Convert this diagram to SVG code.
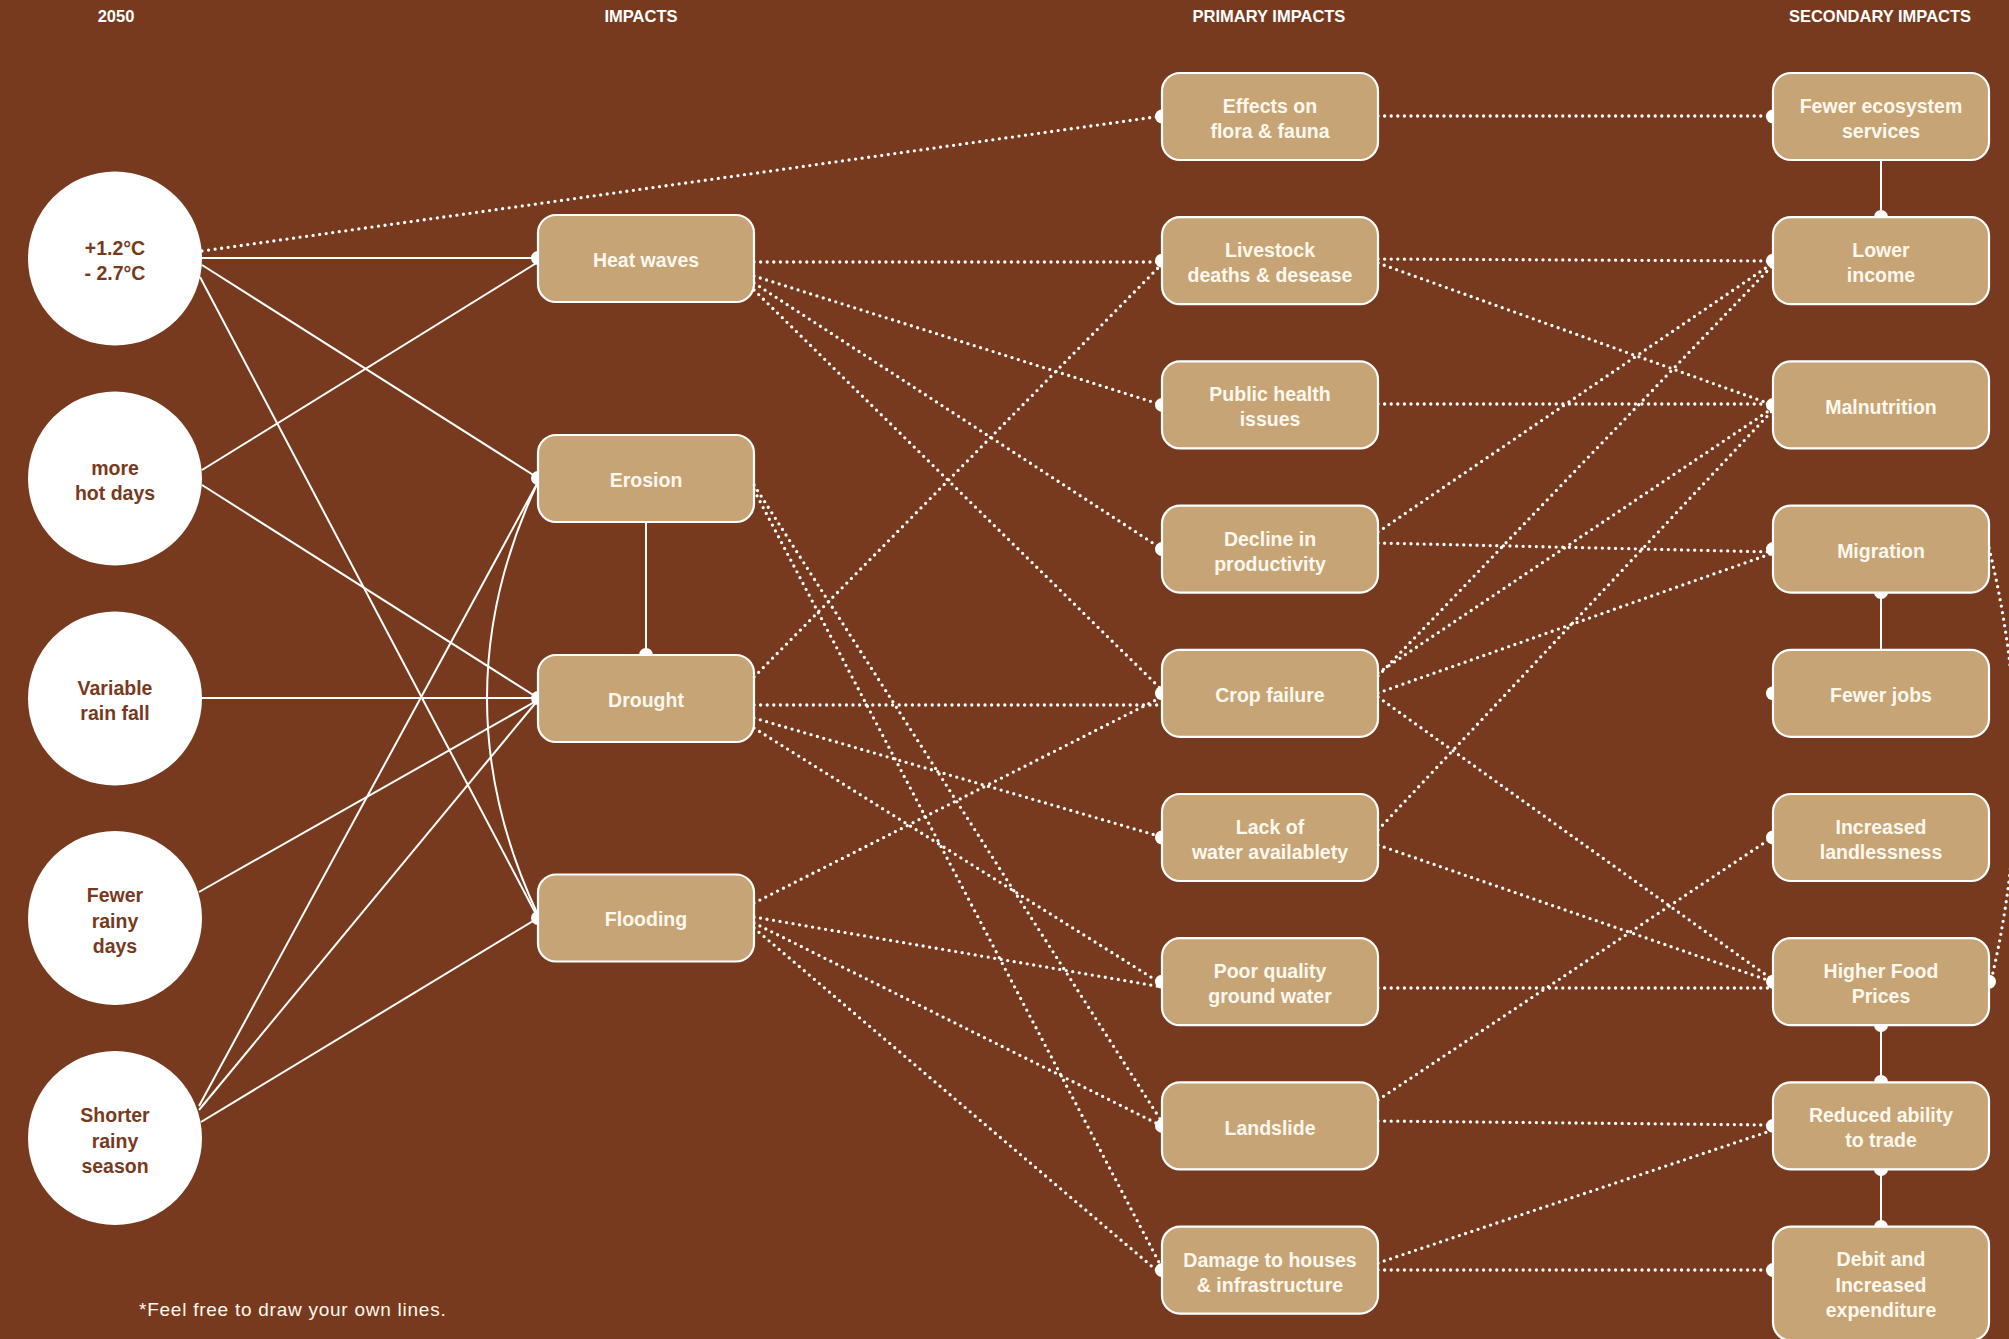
<svg xmlns="http://www.w3.org/2000/svg" width="2009" height="1339" viewBox="0 0 2009 1339">
<style>
.bg{fill:#783A1E}
.hdr{font-family:"Liberation Sans",Arial,sans-serif;font-weight:bold;font-size:16.5px;fill:#FFFFFF;text-anchor:middle}
.cause circle{fill:#FFFFFF}
.cause text{font-family:"Liberation Sans",Arial,sans-serif;font-weight:bold;font-size:19.5px;fill:#783A1E;text-anchor:middle}
.box rect{fill:#C7A476;stroke:#FFFFFF;stroke-width:2.2}
.box text{font-family:"Liberation Sans",Arial,sans-serif;font-weight:bold;font-size:19.5px;fill:#FFF8EC;text-anchor:middle}
.solid{stroke:#FFFFFF;stroke-width:2;fill:none}
.dot{stroke:#FFFFFF;stroke-width:3.3;fill:none;stroke-dasharray:0 6.6;stroke-linecap:round}
.end{fill:#FFFFFF}
.note{font-family:"Liberation Sans",Arial,sans-serif;font-size:19px;letter-spacing:0.75px;fill:#FFF8EC}
</style>
<rect class="bg" x="0" y="0" width="2009" height="1339"/>

<g id="headers">
<text class="hdr" x="116" y="22">2050</text>
<text class="hdr" x="641" y="22">IMPACTS</text>
<text class="hdr" x="1269" y="22">PRIMARY IMPACTS</text>
<text class="hdr" x="1880" y="22">SECONDARY IMPACTS</text>
</g>

<g id="connectors">
<line class="solid" x1="202" y1="258" x2="538" y2="258"/>
<line class="solid" x1="202" y1="265" x2="538" y2="478"/>
<line class="solid" x1="200" y1="277" x2="538" y2="918"/>
<line class="solid" x1="202" y1="470" x2="538" y2="262"/>
<line class="solid" x1="202" y1="485" x2="538" y2="698"/>
<line class="solid" x1="202" y1="698" x2="538" y2="698"/>
<line class="solid" x1="199" y1="892" x2="538" y2="700"/>
<line class="solid" x1="199" y1="1106" x2="538" y2="482"/>
<line class="solid" x1="199" y1="1110" x2="538" y2="700"/>
<line class="solid" x1="201" y1="1122" x2="538" y2="918"/>
<path class="solid" d="M538 482 Q436 698 538 915"/>
<line class="solid" x1="646" y1="522" x2="646" y2="655"/>
<line class="dot" x1="202" y1="251" x2="1162" y2="116"/>
<line class="dot" x1="754" y1="262" x2="1162" y2="262"/>
<line class="dot" x1="754" y1="276" x2="1162" y2="405"/>
<line class="dot" x1="754" y1="283" x2="1162" y2="549"/>
<line class="dot" x1="754" y1="290" x2="1162" y2="690"/>
<line class="dot" x1="754" y1="485" x2="1162" y2="1122"/>
<line class="dot" x1="754" y1="490" x2="1162" y2="1268"/>
<line class="dot" x1="754" y1="677" x2="1162" y2="264"/>
<line class="dot" x1="754" y1="705" x2="1162" y2="705"/>
<line class="dot" x1="754" y1="718" x2="1162" y2="837"/>
<line class="dot" x1="754" y1="728" x2="1162" y2="984"/>
<line class="dot" x1="754" y1="903" x2="1162" y2="697"/>
<line class="dot" x1="754" y1="917" x2="1162" y2="987"/>
<line class="dot" x1="754" y1="923" x2="1162" y2="1126"/>
<line class="dot" x1="754" y1="928" x2="1162" y2="1275"/>
<line class="dot" x1="1378" y1="116" x2="1773" y2="116"/>
<line class="dot" x1="1378" y1="259" x2="1773" y2="261"/>
<line class="dot" x1="1378" y1="263" x2="1773" y2="405"/>
<line class="dot" x1="1378" y1="404" x2="1773" y2="404"/>
<line class="dot" x1="1378" y1="532" x2="1773" y2="263"/>
<line class="dot" x1="1378" y1="543" x2="1773" y2="552"/>
<line class="dot" x1="1378" y1="676" x2="1773" y2="265"/>
<line class="dot" x1="1378" y1="673" x2="1773" y2="408"/>
<line class="dot" x1="1378" y1="693" x2="1773" y2="553"/>
<line class="dot" x1="1378" y1="697" x2="1773" y2="980"/>
<line class="dot" x1="1378" y1="830" x2="1773" y2="410"/>
<line class="dot" x1="1378" y1="845" x2="1773" y2="982"/>
<line class="dot" x1="1378" y1="988" x2="1773" y2="988"/>
<line class="dot" x1="1378" y1="1100" x2="1773" y2="837"/>
<line class="dot" x1="1378" y1="1121" x2="1773" y2="1125"/>
<line class="dot" x1="1378" y1="1263" x2="1773" y2="1130"/>
<line class="dot" x1="1378" y1="1270" x2="1773" y2="1270"/>
<path class="dot" d="M1989 548 Q2042 765 1991 981"/>
<line class="solid" x1="1881" y1="160" x2="1881" y2="217"/>
<line class="solid" x1="1881" y1="592" x2="1881" y2="650"/>
<line class="solid" x1="1881" y1="1025" x2="1881" y2="1082"/>
<line class="solid" x1="1881" y1="1169" x2="1881" y2="1227"/>
<circle class="end" cx="538" cy="258" r="7"/>
<circle class="end" cx="538" cy="478" r="7"/>
<circle class="end" cx="538" cy="698" r="7"/>
<circle class="end" cx="538" cy="918" r="7"/>
<circle class="end" cx="646" cy="655" r="7"/>
<circle class="end" cx="1162" cy="116.5" r="7"/>
<circle class="end" cx="1162" cy="260.7" r="7"/>
<circle class="end" cx="1162" cy="404.9" r="7"/>
<circle class="end" cx="1162" cy="549.1" r="7"/>
<circle class="end" cx="1162" cy="693.3" r="7"/>
<circle class="end" cx="1162" cy="837.5" r="7"/>
<circle class="end" cx="1162" cy="981.7" r="7"/>
<circle class="end" cx="1162" cy="1125.9" r="7"/>
<circle class="end" cx="1162" cy="1270.1" r="7"/>
<circle class="end" cx="1773" cy="116.5" r="7"/>
<circle class="end" cx="1773" cy="260.7" r="7"/>
<circle class="end" cx="1773" cy="404.9" r="7"/>
<circle class="end" cx="1773" cy="549.1" r="7"/>
<circle class="end" cx="1773" cy="693.3" r="7"/>
<circle class="end" cx="1773" cy="837.5" r="7"/>
<circle class="end" cx="1773" cy="981.7" r="7"/>
<circle class="end" cx="1773" cy="1125.9" r="7"/>
<circle class="end" cx="1773" cy="1270.1" r="7"/>
<circle class="end" cx="1989" cy="981.7" r="7"/>
<circle class="end" cx="1881" cy="217" r="7"/>
<circle class="end" cx="1881" cy="592" r="7"/>
<circle class="end" cx="1881" cy="1025" r="7"/>
<circle class="end" cx="1881" cy="1082" r="7"/>
<circle class="end" cx="1881" cy="1169" r="7"/>
<circle class="end" cx="1881" cy="1227" r="7"/>
</g>

<g id="c-temp" class="cause"><circle cx="115" cy="258.5" r="87"/><text x="115" y="255">+1.2°C</text><text x="115" y="280">- 2.7°C</text></g>
<g id="c-hotdays" class="cause"><circle cx="115" cy="478.5" r="87"/><text x="115" y="475">more</text><text x="115" y="500">hot days</text></g>
<g id="c-rainfall" class="cause"><circle cx="115" cy="698.5" r="87"/><text x="115" y="695">Variable</text><text x="115" y="720">rain fall</text></g>
<g id="c-fewerrainy" class="cause"><circle cx="115" cy="918" r="87"/><text x="115" y="902">Fewer</text><text x="115" y="928">rainy</text><text x="115" y="953">days</text></g>
<g id="c-shorter" class="cause"><circle cx="115" cy="1138" r="87"/><text x="115" y="1122">Shorter</text><text x="115" y="1148">rainy</text><text x="115" y="1173">season</text></g>

<g id="i-heat" class="box"><rect x="538" y="215" width="216" height="87" rx="18"/><text x="646" y="267">Heat waves</text></g>
<g id="i-erosion" class="box"><rect x="538" y="435" width="216" height="87" rx="18"/><text x="646" y="487">Erosion</text></g>
<g id="i-drought" class="box"><rect x="538" y="655" width="216" height="87" rx="18"/><text x="646" y="707">Drought</text></g>
<g id="i-flooding" class="box"><rect x="538" y="874.5" width="216" height="87" rx="18"/><text x="646" y="926">Flooding</text></g>

<g id="p-flora" class="box"><rect x="1162" y="73" width="216" height="87" rx="18"/><text x="1270" y="113">Effects on</text><text x="1270" y="138">flora &amp; fauna</text></g>
<g id="p-livestock" class="box"><rect x="1162" y="217.2" width="216" height="87" rx="18"/><text x="1270" y="257.2">Livestock</text><text x="1270" y="282.2">deaths &amp; desease</text></g>
<g id="p-health" class="box"><rect x="1162" y="361.4" width="216" height="87" rx="18"/><text x="1270" y="401.4">Public health</text><text x="1270" y="426.4">issues</text></g>
<g id="p-productivity" class="box"><rect x="1162" y="505.6" width="216" height="87" rx="18"/><text x="1270" y="545.6">Decline in</text><text x="1270" y="570.6">productivity</text></g>
<g id="p-crop" class="box"><rect x="1162" y="649.8" width="216" height="87" rx="18"/><text x="1270" y="702">Crop failure</text></g>
<g id="p-water" class="box"><rect x="1162" y="794" width="216" height="87" rx="18"/><text x="1270" y="834">Lack of</text><text x="1270" y="859">water availablety</text></g>
<g id="p-groundwater" class="box"><rect x="1162" y="938.2" width="216" height="87" rx="18"/><text x="1270" y="978.2">Poor quality</text><text x="1270" y="1003.2">ground water</text></g>
<g id="p-landslide" class="box"><rect x="1162" y="1082.4" width="216" height="87" rx="18"/><text x="1270" y="1134.5">Landslide</text></g>
<g id="p-damage" class="box"><rect x="1162" y="1226.6" width="216" height="87" rx="18"/><text x="1270" y="1266.6">Damage to houses</text><text x="1270" y="1291.6">&amp; infrastructure</text></g>

<g id="s-ecosystem" class="box"><rect x="1773" y="73" width="216" height="87" rx="18"/><text x="1881" y="113">Fewer ecosystem</text><text x="1881" y="138">services</text></g>
<g id="s-income" class="box"><rect x="1773" y="217.2" width="216" height="87" rx="18"/><text x="1881" y="257.2">Lower</text><text x="1881" y="282.2">income</text></g>
<g id="s-malnutrition" class="box"><rect x="1773" y="361.4" width="216" height="87" rx="18"/><text x="1881" y="413.5">Malnutrition</text></g>
<g id="s-migration" class="box"><rect x="1773" y="505.6" width="216" height="87" rx="18"/><text x="1881" y="557.7">Migration</text></g>
<g id="s-jobs" class="box"><rect x="1773" y="649.8" width="216" height="87" rx="18"/><text x="1881" y="702">Fewer jobs</text></g>
<g id="s-landlessness" class="box"><rect x="1773" y="794" width="216" height="87" rx="18"/><text x="1881" y="834">Increased</text><text x="1881" y="859">landlessness</text></g>
<g id="s-foodprices" class="box"><rect x="1773" y="938.2" width="216" height="87" rx="18"/><text x="1881" y="978.2">Higher Food</text><text x="1881" y="1003.2">Prices</text></g>
<g id="s-trade" class="box"><rect x="1773" y="1082.4" width="216" height="87" rx="18"/><text x="1881" y="1122.4">Reduced ability</text><text x="1881" y="1147.4">to trade</text></g>
<g id="s-debt" class="box"><rect x="1773" y="1226.6" width="216" height="114" rx="18"/><text x="1881" y="1266">Debit and</text><text x="1881" y="1292">Increased</text><text x="1881" y="1317">expenditure</text></g>

<text class="note" x="139" y="1316">*Feel free to draw your own lines.</text>
</svg>
